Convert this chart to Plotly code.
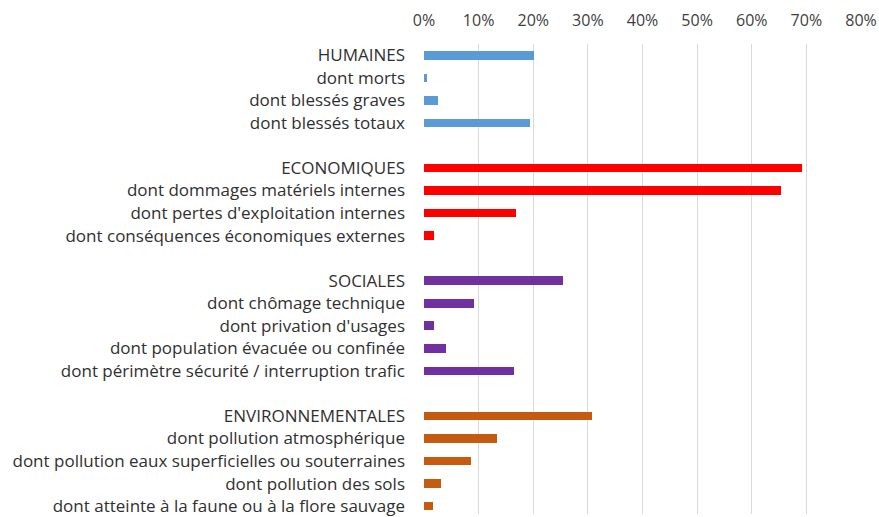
import plotly.graph_objects as go

# Category labels and shares (fraction of events) for each consequence group
humaines_labels = ["HUMAINES", "dont morts", "dont blessés graves", "dont blessés totaux"]
humaines_values = [0.201, 0.006, 0.025, 0.194]

economiques_labels = ["ECONOMIQUES", "dont dommages matériels internes",
                      "dont pertes d'exploitation internes",
                      "dont conséquences économiques externes"]
economiques_values = [0.692, 0.653, 0.168, 0.018]

sociales_labels = ["SOCIALES", "dont chômage technique", "dont privation d'usages",
                   "dont population évacuée ou confinée",
                   "dont périmètre sécurité / interruption trafic"]
sociales_values = [0.254, 0.092, 0.019, 0.040, 0.164]

environnementales_labels = ["ENVIRONNEMENTALES", "dont pollution atmosphérique",
                            "dont pollution eaux superficielles ou souterraines",
                            "dont pollution des sols",
                            "dont atteinte à la faune ou à la flore sauvage"]
environnementales_values = [0.307, 0.134, 0.086, 0.032, 0.017]

x_ticks = [0, 0.1, 0.2, 0.3, 0.4, 0.5, 0.6, 0.7, 0.8]

groups = [
    (humaines_labels, humaines_values, "#5B9BD5"),
    (economiques_labels, economiques_values, "#FF0000"),
    (sociales_labels, sociales_values, "#7030A0"),
    (environnementales_labels, environnementales_values, "#C55A11"),
]

fig = go.Figure()
tickvals, ticktext = [], []
pos = 0
for labels, values, color in groups:
    ys = list(range(pos, pos + len(labels)))
    fig.add_trace(go.Bar(
        x=values, y=ys, orientation="h", width=0.38,
        marker=dict(color=color, line=dict(width=0)),
        showlegend=False, hoverinfo="x+text", text=labels, textposition="none",
    ))
    tickvals += ys
    ticktext += labels
    pos += len(labels) + 1  # blank slot between groups

fig.update_layout(
    width=879, height=517,
    margin=dict(l=424, r=18, t=44, b=0),
    plot_bgcolor="white", paper_bgcolor="white",
    font=dict(family="'Open Sans', sans-serif", size=15, color="#333333"),
    bargap=0,
)
fig.update_xaxes(
    side="top", range=[0, 0.8], tickvals=x_ticks, tickformat=".0%",
    showgrid=True, gridcolor="#D9D9D9", gridwidth=1,
    zeroline=False, showline=False, ticks="", ticklabelstandoff=14,
    tickfont=dict(size=16, color="#404040"),
)
fig.update_yaxes(
    range=[20.35, -0.5], tickvals=tickvals, ticktext=ticktext,
    showgrid=False, zeroline=False, showline=False, ticks="",
    ticklabelstandoff=18, ticklabeloverflow="allow",
    tickfont=dict(size=17, color="#303030"),
)

fig.write_html("out.html")
